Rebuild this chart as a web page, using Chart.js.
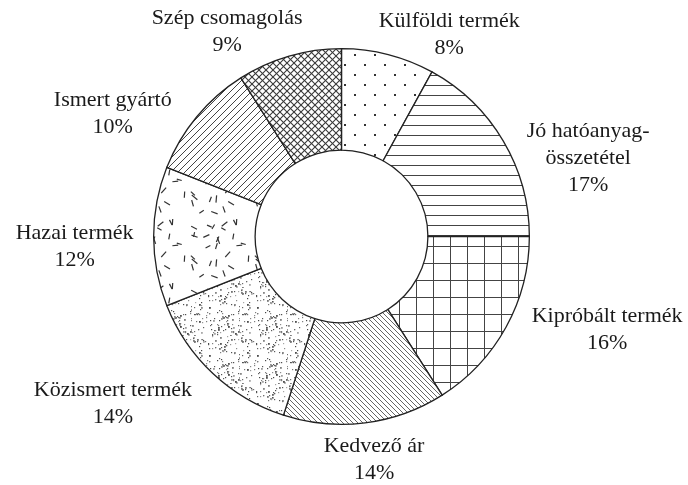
<!DOCTYPE html>
<html>
<head>
<meta charset="utf-8">
<script src="https://cdn.jsdelivr.net/npm/chart.js@4/dist/chart.umd.min.js"></script>
<style>
  html, body { margin: 0; padding: 0; background: #fff; }
  #wrap { width: 688px; height: 485px; }
</style>
</head>
<body>
<div id="wrap"><canvas id="c" width="688" height="485"></canvas></div>
<script>
// Categories (clockwise from 12 o'clock) and their shares in percent
const categories = [
  ['Külföldi termék'],
  ['Jó hatóanyag-', 'összetétel'],
  ['Kipróbált termék'],
  ['Kedvező ár'],
  ['Közismert termék'],
  ['Hazai termék'],
  ['Ismert gyártó'],
  ['Szép csomagolás']
];
const shares = [8, 17, 16, 14, 14, 12, 10, 9];

// Label nudges (px) from the outer edge midpoint of each slice
const labelOffsets = [
  [61, -20], [85, 17], [101, 3], [9, 37],
  [-100, 30], [-79, 10], [-84, -3], [-62, -24]
];

const INK = '#222';

// Small deterministic generator for the speckle textures
function seeded(seed) {
  let s = seed >>> 0;
  return () => {
    s = (s * 1664525 + 1013904223) >>> 0;
    return s / 4294967296;
  };
}

function tile(w, h, draw) {
  const c = document.createElement('canvas');
  c.width = w; c.height = h;
  const g = c.getContext('2d');
  g.fillStyle = '#fff';
  g.fillRect(0, 0, w, h);
  draw(g, w, h);
  return g.createPattern(c, 'repeat');
}

// sparse staggered dots
const pDots = tile(20, 20, (g) => {
  g.fillStyle = '#333';
  g.fillRect(4, 4, 2, 2);
  g.fillRect(14, 14, 2, 2);
});

// horizontal rules
const pHoriz = tile(10, 10, (g, w) => {
  g.strokeStyle = '#444'; g.lineWidth = 1;
  g.beginPath(); g.moveTo(0, 5.5); g.lineTo(w, 5.5); g.stroke();
});

// square grid
const pGrid = tile(17, 17, (g, w, h) => {
  g.strokeStyle = '#444'; g.lineWidth = 1;
  g.beginPath();
  g.moveTo(0, 8.5); g.lineTo(w, 8.5);
  g.moveTo(8.5, 0); g.lineTo(8.5, h);
  g.stroke();
});

function diag(g, s, dir) {
  g.beginPath();
  if (dir > 0) { // "/"
    g.moveTo(-1, 1); g.lineTo(1, -1);
    g.moveTo(0, s); g.lineTo(s, 0);
    g.moveTo(s - 1, s + 1); g.lineTo(s + 1, s - 1);
  } else {       // "\"
    g.moveTo(-1, s - 1); g.lineTo(1, s + 1);
    g.moveTo(0, 0); g.lineTo(s, s);
    g.moveTo(s - 1, -1); g.lineTo(s + 1, 1);
  }
  g.stroke();
}

// fine back-slash hatching
const pBack = tile(5, 5, (g, s) => {
  g.strokeStyle = '#555'; g.lineWidth = 0.9;
  diag(g, s, -1);
});

// forward-slash hatching
const pFwd = tile(7, 7, (g, s) => {
  g.strokeStyle = '#444'; g.lineWidth = 1;
  diag(g, s, 1);
});

// diagonal cross-hatching
const pCross = tile(7, 7, (g, s) => {
  g.strokeStyle = '#3a3a3a'; g.lineWidth = 1.1;
  diag(g, s, 1);
  diag(g, s, -1);
});

// dense fine stipple
const pStipple = tile(48, 48, (g, w, h) => {
  const r = seeded(17);
  for (let i = 0; i < 150; i++) {
    const x = Math.floor(r() * w), y = Math.floor(r() * h);
    const big = r() < 0.25;
    const shade = Math.floor(70 + r() * 100);
    g.fillStyle = `rgb(${shade},${shade},${shade})`;
    g.fillRect(x, y, big ? 1.8 : 1.2, big ? 1.8 : 1.2);
  }
});

// scattered short dashes
const pDash = tile(64, 64, (g, w, h) => {
  const r = seeded(91);
  g.strokeStyle = '#333'; g.lineWidth = 1.2;
  for (let i = 0; i < 28; i++) {
    const x = r() * w, y = r() * h;
    const a = r() * Math.PI;
    const len = 5 + r() * 2.5;
    const dx = Math.cos(a) * len / 2, dy = Math.sin(a) * len / 2;
    for (const ox of [-w, 0, w]) for (const oy of [-h, 0, h]) {
      g.beginPath();
      g.moveTo(x + ox - dx, y + oy - dy);
      g.lineTo(x + ox + dx, y + oy + dy);
      g.stroke();
    }
  }
});

const fills = [pDots, pHoriz, pGrid, pBack, pStipple, pDash, pFwd, pCross];

const FONT = '22px "Liberation Serif", "Times New Roman", serif';
const LINE_H = 27;

const outsideLabels = {
  id: 'outsideLabels',
  afterDatasetsDraw(chart) {
    const ctx = chart.ctx;
    const meta = chart.getDatasetMeta(0);
    ctx.save();
    ctx.font = FONT;
    ctx.fillStyle = '#1a1a1a';
    ctx.textAlign = 'center';
    ctx.textBaseline = 'middle';
    meta.data.forEach((arc, i) => {
      const p = arc.getProps(['x', 'y', 'startAngle', 'endAngle', 'outerRadius'], true);
      const mid = (p.startAngle + p.endAngle) / 2;
      const ex = p.x + Math.cos(mid) * p.outerRadius;
      const ey = p.y + Math.sin(mid) * p.outerRadius;
      const lines = categories[i].concat([shares[i] + '%']);
      const cx = ex + labelOffsets[i][0];
      const cy = ey + labelOffsets[i][1];
      const top = cy - (lines.length - 1) * LINE_H / 2;
      lines.forEach((t, k) => ctx.fillText(t, cx, top + k * LINE_H));
    });
    ctx.restore();
  }
};

new Chart(document.getElementById('c'), {
  type: 'doughnut',
  data: {
    labels: categories.map(l => l.join(' ')),
    datasets: [{
      data: shares,
      backgroundColor: fills,
      borderColor: INK,
      borderWidth: 1.3,
      borderJoinStyle: 'miter',
      hoverOffset: 0
    }]
  },
  options: {
    responsive: false,
    animation: false,
    cutout: '46%',
    rotation: 0,
    layout: { padding: { top: 48, bottom: 60, left: 153, right: 158 } },
    plugins: {
      legend: { display: false },
      tooltip: { enabled: false }
    }
  },
  plugins: [outsideLabels]
});
</script>
</body>
</html>
